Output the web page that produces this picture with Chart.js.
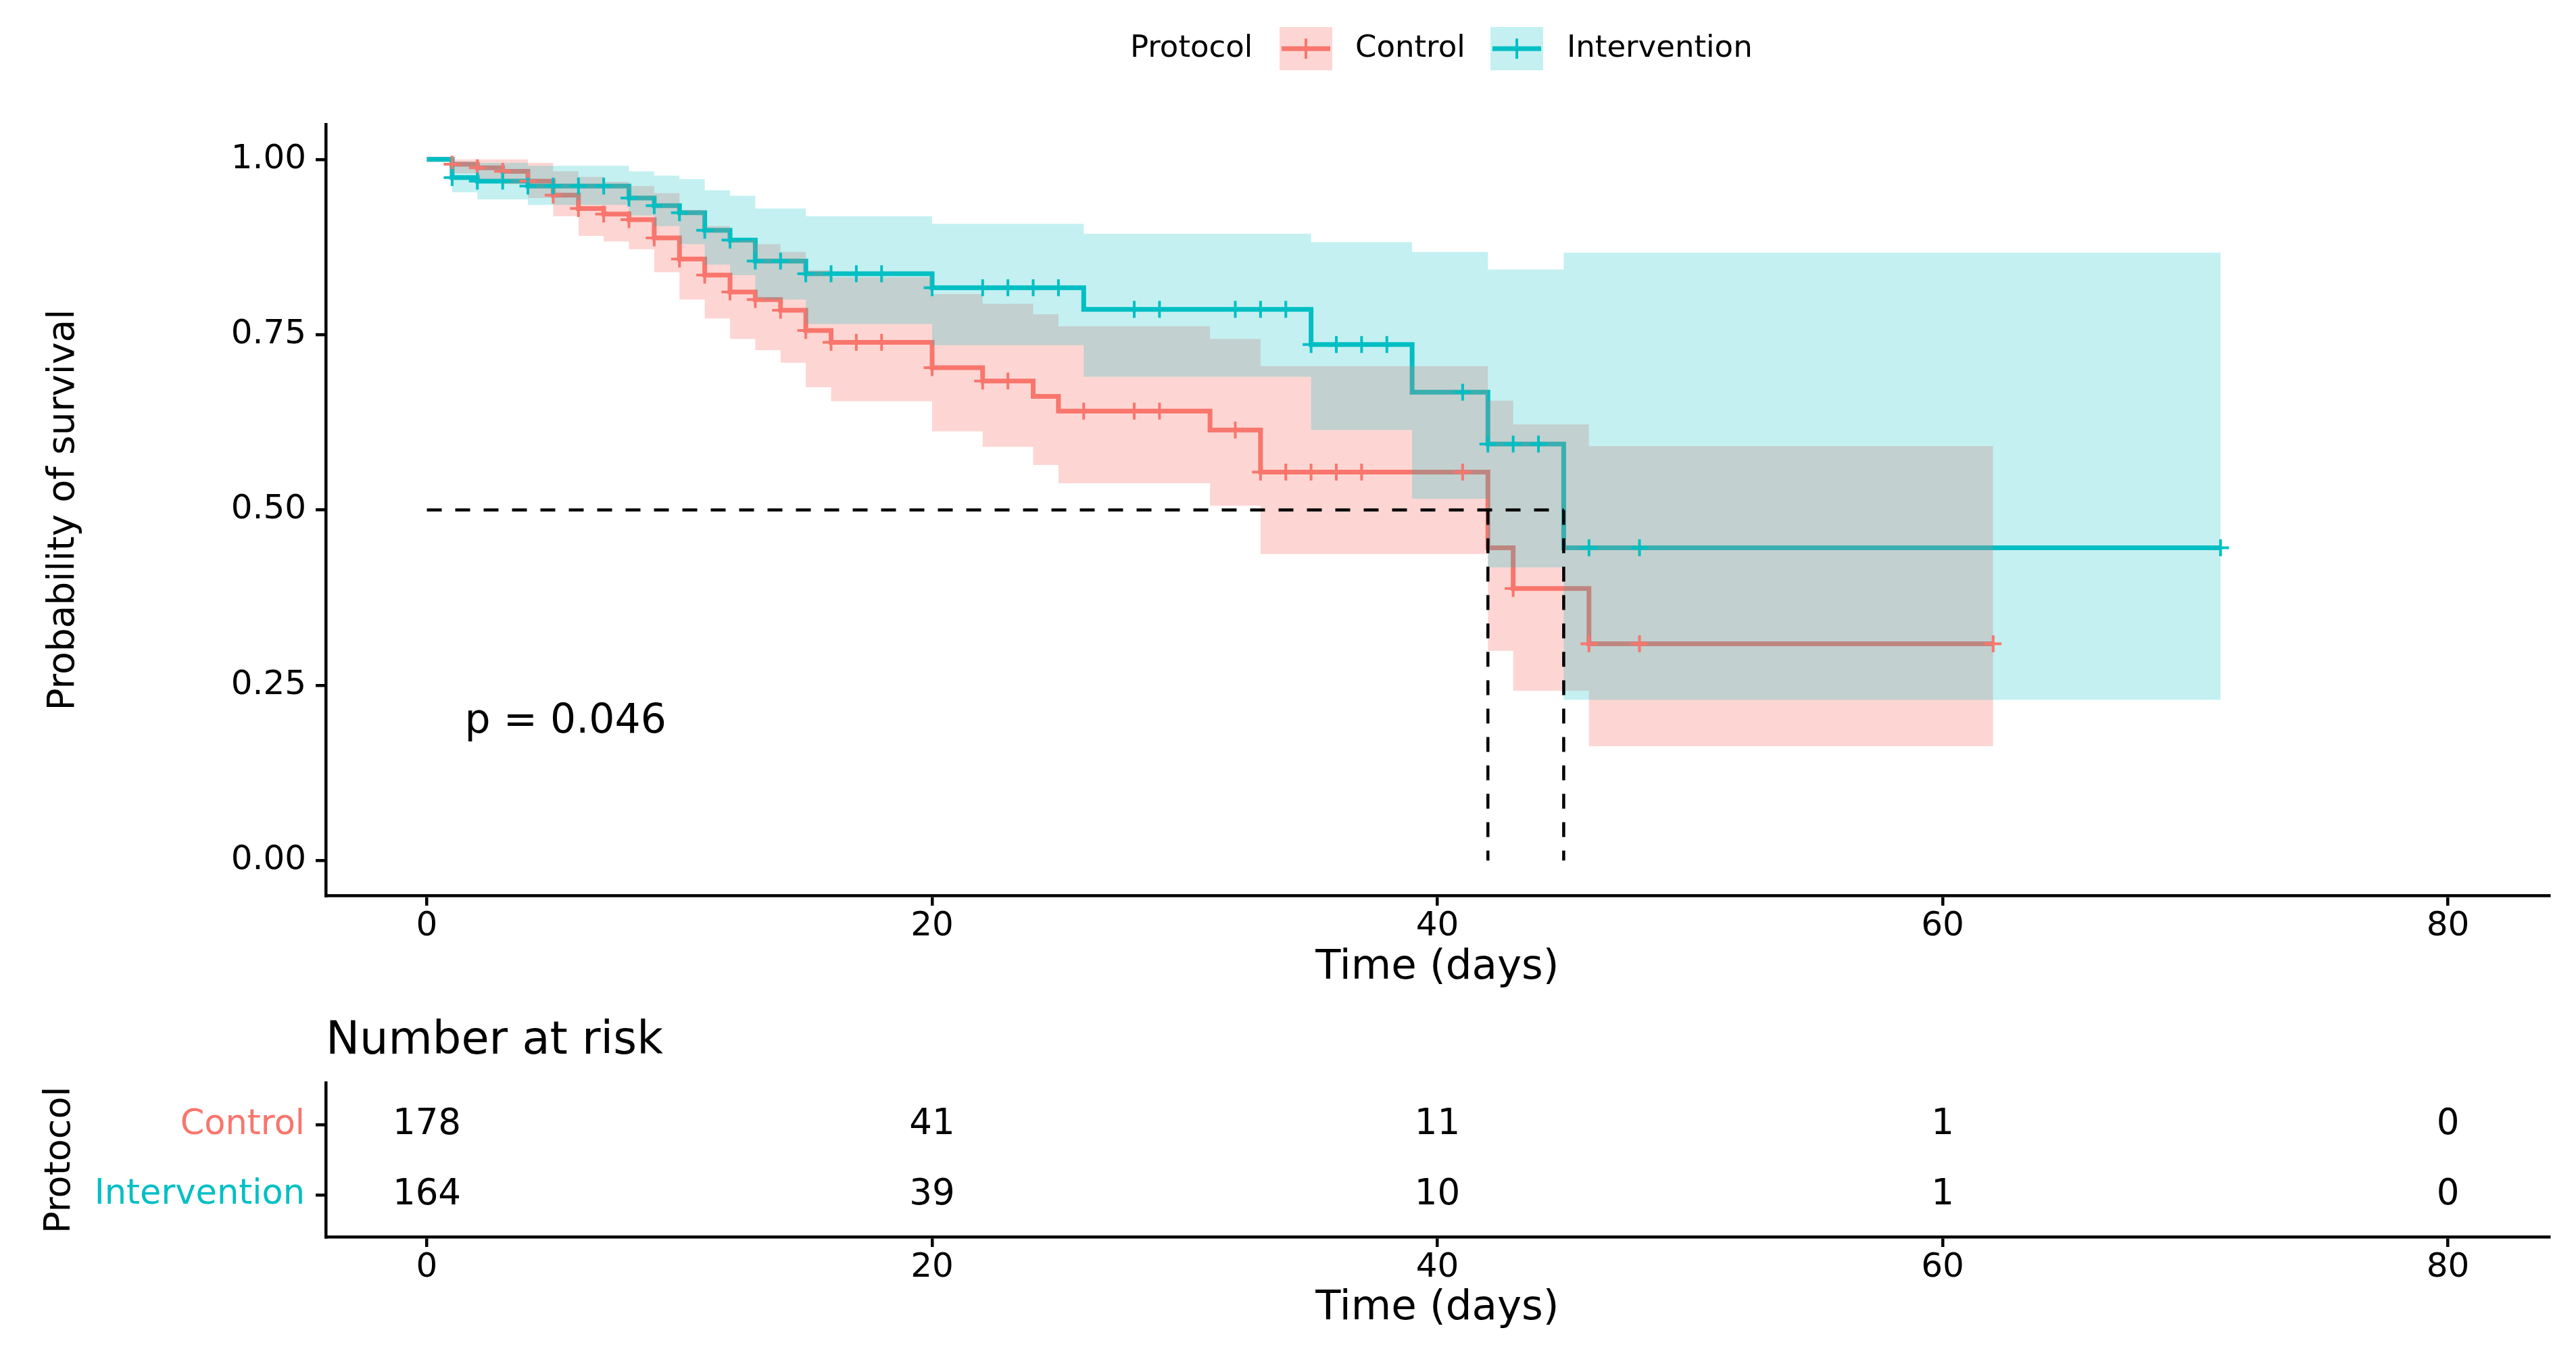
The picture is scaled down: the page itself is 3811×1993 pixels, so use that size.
<!DOCTYPE html>
<html><head><meta charset="utf-8">
<script src="https://cdn.jsdelivr.net/npm/chart.js@4.4.1/dist/chart.umd.min.js"></script>
<style>html,body{margin:0;padding:0;background:#fff;overflow:hidden}canvas{display:block}</style>
</head><body>
<canvas id="km" width="3811" height="1480"></canvas>
<canvas id="risk" width="3811" height="513"></canvas>
<script>
// ---------------- DATA ----------------
const groupNames = ['Control', 'Intervention'];
const timeTicks = [0, 20, 40, 60, 80];
const survTicks = [0, 0.25, 0.5, 0.75, 1];

const controlTimes = [0, 1, 2, 3, 4, 5, 6, 7, 8, 9, 10, 11, 12, 13, 14, 15, 16, 20, 22, 24, 25, 31, 33, 42, 43, 46, 62];
const controlSurv  = [1, 0.993, 0.988, 0.983, 0.969, 0.949, 0.930, 0.922, 0.914, 0.888, 0.858, 0.835, 0.811, 0.800, 0.785, 0.756, 0.739, 0.703, 0.684, 0.662, 0.641, 0.614, 0.554, 0.446, 0.388, 0.309, 0.309];
const controlUpper = [1, 1, 1, 1, 0.995, 0.983, 0.975, 0.968, 0.962, 0.952, 0.928, 0.905, 0.885, 0.879, 0.868, 0.842, 0.832, 0.808, 0.794, 0.779, 0.762, 0.744, 0.705, 0.656, 0.622, 0.591, 0.591];
const controlLower = [1, 0.980, 0.972, 0.965, 0.945, 0.919, 0.891, 0.883, 0.872, 0.839, 0.800, 0.773, 0.744, 0.728, 0.710, 0.675, 0.655, 0.612, 0.590, 0.564, 0.538, 0.506, 0.437, 0.299, 0.242, 0.163, 0.163];
const controlCensor = [1, 2, 3, 4, 5, 6, 7, 8, 9, 10, 11, 12, 13, 14, 15, 16, 17, 18, 20, 22, 23, 26, 28, 29, 32, 33, 34, 35, 36, 37, 41, 43, 46, 48, 62];

const interventionTimes = [0, 1, 2, 4, 8, 9, 10, 11, 12, 13, 15, 20, 26, 35, 39, 42, 45, 71];
const interventionSurv  = [1, 0.974, 0.969, 0.962, 0.945, 0.934, 0.924, 0.899, 0.885, 0.855, 0.837, 0.817, 0.786, 0.736, 0.668, 0.594, 0.446, 0.446];
const interventionUpper = [1, 0.997, 0.995, 0.991, 0.983, 0.977, 0.972, 0.956, 0.948, 0.930, 0.919, 0.908, 0.894, 0.882, 0.868, 0.843, 0.867, 0.867];
const interventionLower = [1, 0.953, 0.943, 0.935, 0.920, 0.905, 0.879, 0.850, 0.835, 0.800, 0.765, 0.735, 0.690, 0.614, 0.516, 0.418, 0.229, 0.229];
const interventionCensor = [1, 2, 3, 4, 5, 6, 7, 8, 9, 10, 11, 12, 13, 14, 15, 16, 17, 18, 20, 22, 23, 24, 25, 28, 29, 32, 33, 34, 35, 36, 37, 38, 41, 42, 43, 44, 46, 48, 71];

const medianTimes = [42, 45];
const medianLevel = 0.5;
const pValueLabel = 'p = 0.046';

const riskTimes = [0, 20, 40, 60, 80];
const riskControl = [178, 41, 11, 1, 0];
const riskIntervention = [164, 39, 10, 1, 0];

// ---------------- STYLE ----------------
const RED = '#F8766D', TEAL = '#00BFC4';
const RED_FILL = 'rgba(248,118,109,0.30)', TEAL_FILL = 'rgba(0,191,196,0.23)';
const FONT = "'DejaVu Sans', 'Liberation Sans', sans-serif";
Chart.defaults.font.family = FONT;
Chart.defaults.color = '#000';

function pts(times, vals) { return times.map((t, i) => ({x: t, y: vals[i]})); }
function stepAt(times, vals, t) { let v = vals[0]; for (let i = 0; i < times.length; i++) { if (times[i] <= t) v = vals[i]; } return v; }
function censorPts(ct, times, vals) { return ct.map(t => ({x: t, y: stepAt(times, vals, t)})); }

function curve(data, color, order) {
  return {data, borderColor: color, borderWidth: 7, stepped: 'before', pointRadius: 0, fill: false, order, borderCapStyle: 'butt'};
}
function band(data, fillColor, fill, order) {
  return {data, borderColor: 'rgba(0,0,0,0)', borderWidth: 0, backgroundColor: fillColor, stepped: 'before', pointRadius: 0, fill, order};
}
function marks(data, color, order) {
  return {data, showLine: false, pointStyle: 'cross', pointRadius: 12.5, pointBorderWidth: 4, pointBorderColor: color, pointBackgroundColor: color, borderColor: color, order};
}
function dashed(data, order) {
  return {data, borderColor: '#000', borderWidth: 4.5, borderDash: [22, 20], pointRadius: 0, fill: false, order, borderCapStyle: 'butt'};
}

const axisCommon = {
  grid: {display: true, drawOnChartArea: false, drawTicks: true, tickLength: 15, color: '#000', lineWidth: 4.5},
  border: {display: true, color: '#000', width: 4.5}
};

// legend + p-value plugin
const kmDecor = {
  id: 'kmDecor',
  afterDraw(chart) {
    const ctx = chart.ctx;
    ctx.save();
    const xs = chart.scales.x, ys = chart.scales.y;
    ctx.font = '60px ' + FONT;
    ctx.fillStyle = '#000';
    ctx.textAlign = 'left';
    ctx.textBaseline = 'middle';
    ctx.fillText(pValueLabel, xs.getPixelForValue(1.5), ys.getPixelForValue(0.197));
    const cy = 72;
    ctx.font = '45px ' + FONT;
    ctx.fillText('Protocol', 1672, cy);
    const keys = [
      {x: 1893, color: RED, fill: RED_FILL, label: groupNames[0], lx: 2005},
      {x: 2205, color: TEAL, fill: TEAL_FILL, label: groupNames[1], lx: 2318}
    ];
    keys.forEach(k => {
      ctx.fillStyle = k.fill;
      ctx.fillRect(k.x, cy - 32, 78, 64);
      ctx.strokeStyle = k.color;
      ctx.lineWidth = 7;
      ctx.beginPath(); ctx.moveTo(k.x + 3, cy); ctx.lineTo(k.x + 75, cy); ctx.stroke();
      ctx.lineWidth = 4;
      ctx.beginPath(); ctx.moveTo(k.x + 39, cy - 15); ctx.lineTo(k.x + 39, cy + 15); ctx.stroke();
      ctx.fillStyle = '#000';
      ctx.fillText(k.label, k.lx, cy);
    });
    ctx.restore();
  }
};

new Chart(document.getElementById('km'), {
  type: 'line',
  data: {
    datasets: [
      curve(pts(interventionTimes, interventionSurv), TEAL, 10),
      curve(pts(controlTimes, controlSurv), RED, 11),
      band(pts(controlTimes, controlUpper), RED_FILL, '+1', 9),
      band(pts(controlTimes, controlLower), 'rgba(0,0,0,0)', false, 9),
      band(pts(interventionTimes, interventionUpper), TEAL_FILL, '+1', 8),
      band(pts(interventionTimes, interventionLower), 'rgba(0,0,0,0)', false, 8),
      marks(censorPts(interventionCensor, interventionTimes, interventionSurv), TEAL, 2),
      marks(censorPts(controlCensor, controlTimes, controlSurv), RED, 3),
      dashed([{x: 0, y: medianLevel}, {x: medianTimes[1], y: medianLevel}], 1),
      dashed([{x: medianTimes[0], y: medianLevel}, {x: medianTimes[0], y: 0}], 1),
      dashed([{x: medianTimes[1], y: medianLevel}, {x: medianTimes[1], y: 0}], 1)
    ]
  },
  options: {
    animation: false, responsive: false, devicePixelRatio: 1,
    layout: {padding: {top: 184, right: 40, left: 0, bottom: 0}},
    plugins: {legend: {display: false}, tooltip: {enabled: false}},
    scales: {
      x: Object.assign({
        type: 'linear', min: -4, max: 84,
        afterBuildTicks: s => { s.ticks = timeTicks.map(v => ({value: v})); },
        afterFit: s => { s.height = 155; },
        ticks: {font: {size: 50}, color: '#000', padding: 1, maxRotation: 0, autoSkip: false},
        title: {display: true, text: 'Time (days)', font: {size: 61}, color: '#000', padding: {top: 0, bottom: 11}}
      }, axisCommon),
      y: Object.assign({
        type: 'linear', min: -0.05, max: 1.05,
        afterBuildTicks: s => { s.ticks = survTicks.map(v => ({value: v})); },
        afterFit: s => { s.width = 482; },
        ticks: {font: {size: 50}, color: '#000', padding: 14, callback: v => Number(v).toFixed(2)},
        title: {display: true, text: 'Probability of survival', font: {size: 55}, color: '#000', padding: {top: 62, bottom: 0}}
      }, axisCommon)
    }
  },
  plugins: [kmDecor]
});

// ---------------- RISK TABLE ----------------
const riskLabels = {
  id: 'riskLabels',
  afterDatasetsDraw(chart) {
    const ctx = chart.ctx;
    ctx.save();
    ctx.font = '53px ' + FONT;
    ctx.fillStyle = '#000';
    ctx.textAlign = 'center';
    ctx.textBaseline = 'middle';
    chart.data.datasets.forEach((ds, di) => {
      chart.getDatasetMeta(di).data.forEach((el, i) => {
        ctx.fillText(String(ds.counts[i]), el.x, el.y);
      });
    });
    ctx.restore();
  }
};

new Chart(document.getElementById('risk'), {
  type: 'line',
  data: {
    datasets: [
      {data: riskTimes.map(t => ({x: t, y: 2})), counts: riskControl, showLine: false, pointRadius: 0},
      {data: riskTimes.map(t => ({x: t, y: 1})), counts: riskIntervention, showLine: false, pointRadius: 0}
    ]
  },
  options: {
    animation: false, responsive: false, devicePixelRatio: 1,
    layout: {padding: {top: 0, right: 40, left: 0, bottom: 0}},
    plugins: {
      legend: {display: false}, tooltip: {enabled: false},
      title: {display: true, text: 'Number at risk', align: 'start', fullSize: false, color: '#000',
              font: {size: 67, weight: 'normal'}, padding: {top: 21, bottom: 21}}
    },
    scales: {
      x: Object.assign({
        type: 'linear', min: -4, max: 84,
        afterBuildTicks: s => { s.ticks = timeTicks.map(v => ({value: v})); },
        afterFit: s => { s.height = 163; },
        ticks: {font: {size: 50}, color: '#000', padding: 1, maxRotation: 0, autoSkip: false},
        title: {display: true, text: 'Time (days)', font: {size: 61}, color: '#000', padding: {top: 0, bottom: 20}}
      }, axisCommon),
      y: Object.assign({
        type: 'linear', min: 0.4, max: 2.6,
        afterBuildTicks: s => { s.ticks = [{value: 2}, {value: 1}]; },
        afterFit: s => { s.width = 482; },
        ticks: {font: {size: 51}, padding: 16,
                color: c => (c.tick && c.tick.value === 2) ? RED : TEAL,
                callback: v => v === 2 ? groupNames[0] : (v === 1 ? groupNames[1] : '')},
        title: {display: true, text: 'Protocol', font: {size: 54}, color: '#000', padding: {top: 57, bottom: 0}}
      }, axisCommon)
    }
  },
  plugins: [riskLabels]
});
</script>
</body></html>
